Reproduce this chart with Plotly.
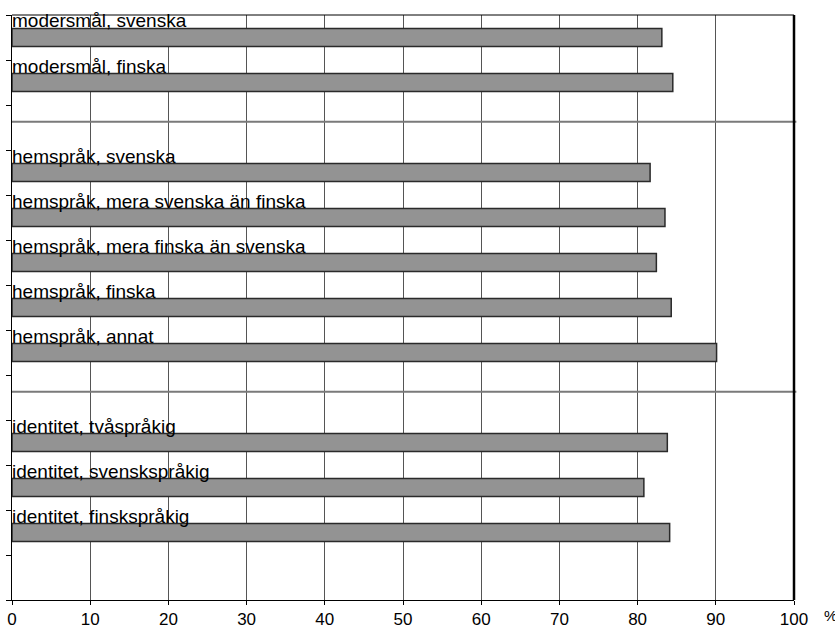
import plotly.graph_objects as go

# ---- data ----
categories = [
    "modersmål, svenska",
    "modersmål, finska",
    "hemspråk, svenska",
    "hemspråk, mera svenska än finska",
    "hemspråk, mera finska än svenska",
    "hemspråk, finska",
    "hemspråk, annat",
    "identitet, tvåspråkig",
    "identitet, svenskspråkig",
    "identitet, finskspråkig",
]
values = [83.1, 84.5, 81.6, 83.5, 82.4, 84.3, 90.1, 83.8, 80.8, 84.1]
group_sizes = [2, 5, 3]
x_ticks = [0, 10, 20, 30, 40, 50, 60, 70, 80, 90, 100]
x_tick_labels = ["0", "10", "20", "30", "40", "50", "60", "70", "80", "90", "100"]
unit_label = "%"

# ---- slot layout: each group followed by an empty slot ----
positions = []
gap_slots = []
slot = 0
for n in group_sizes:
    for _ in range(n):
        positions.append(slot)
        slot += 1
    gap_slots.append(slot)
    slot += 1
n_slots = slot

FONT = "Liberation Sans, Arial, sans-serif"
BAR_W = 0.4

fig = go.Figure()
fig.add_trace(go.Bar(
    x=values, y=positions, orientation="h", width=BAR_W,
    marker=dict(color="#939393", line=dict(color="#2a2a2a", width=1.5)),
    hoverinfo="skip", showlegend=False,
))

# labels above bars
for cat, p in zip(categories, positions):
    fig.add_annotation(
        x=0, y=p - BAR_W / 2, xref="x", yref="y", text=cat,
        xanchor="left", yanchor="bottom", showarrow=False,
        font=dict(family=FONT, size=19, color="black"),
        xshift=-1, yshift=-4, borderpad=0,
    )

# group separators (not the last gap)
for g in gap_slots[:-1]:
    fig.add_shape(type="line", xref="paper", yref="y", x0=0, x1=1.003,
                  y0=g - 0.13, y1=g - 0.13,
                  line=dict(color="#7a7a7a", width=2), layer="above")

# thick right border
fig.add_shape(type="line", xref="paper", yref="paper", x0=1, x1=1, y0=0, y1=1,
              line=dict(color="black", width=2.5), layer="above")
# top border
fig.add_shape(type="line", xref="paper", yref="paper", x0=0, x1=1, y0=1, y1=1,
              line=dict(color="black", width=1), layer="above")

fig.add_annotation(x=1, y=0, xref="paper", yref="paper", text=unit_label,
                   xanchor="left", yanchor="top", showarrow=False,
                   xshift=28, yshift=-5,
                   font=dict(family=FONT, size=15, color="black"))

fig.update_xaxes(
    range=[0, 100], tickvals=x_ticks, ticktext=x_tick_labels,
    showgrid=True, gridcolor="#555555", gridwidth=1,
    showline=True, linecolor="black", linewidth=1,
    ticks="outside", ticklen=4, tickcolor="black",
    tickfont=dict(family=FONT, size=17, color="black"),
    ticklabeloverflow="allow",
    zeroline=False, fixedrange=True, automargin=False,
)
fig.update_yaxes(
    range=[n_slots - 0.5, -0.5],
    tickvals=[k - 0.5 for k in range(n_slots + 1)],
    showticklabels=False, showgrid=False,
    showline=True, linecolor="black", linewidth=1,
    ticks="outside", ticklen=5, tickcolor="black",
    zeroline=False, fixedrange=True, automargin=False,
)
fig.update_layout(
    width=835, height=625,
    margin=dict(l=12, r=41, t=15, b=25),
    plot_bgcolor="white", paper_bgcolor="white",
    bargap=0, showlegend=False,
)
# remove the default 8px page margin so the figure fills the window exactly
fig.write_html("out.html",
               config={"displayModeBar": False, "staticPlot": True},
               post_script="document.body.style.margin='0';document.body.style.overflow='hidden';")
